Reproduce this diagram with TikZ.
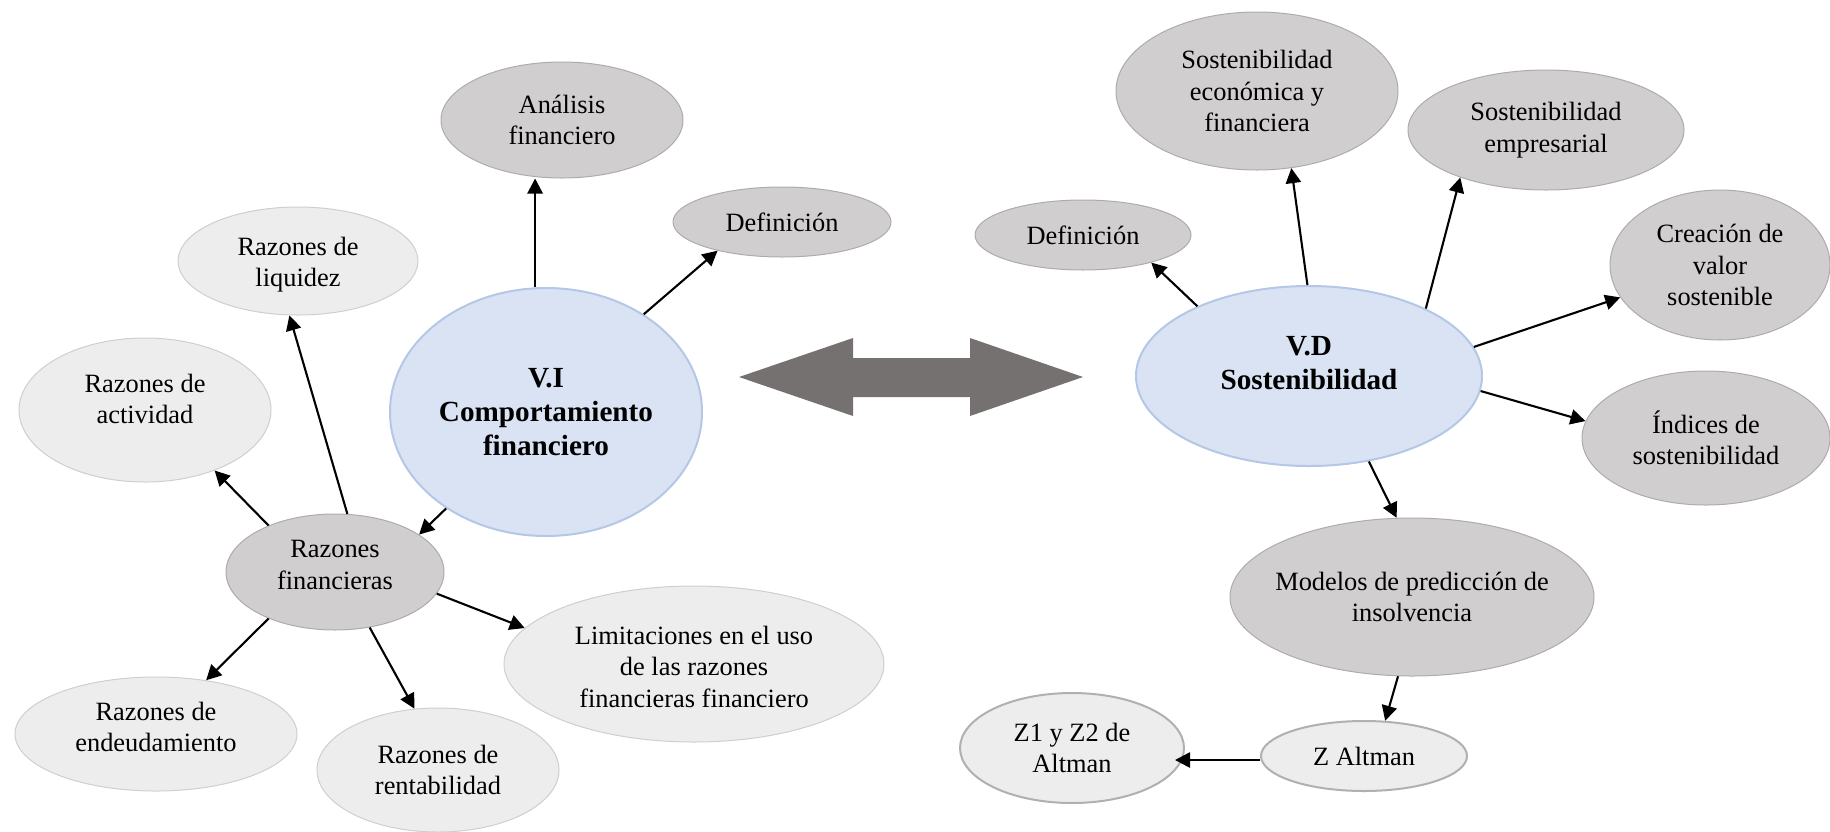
\documentclass[tikz,border=0pt]{standalone}
\usepackage{fontspec}
\setmainfont{Liberation Serif}
\usetikzlibrary{shapes.geometric}
\usetikzlibrary{arrows.meta}

\definecolor{darkfill}{HTML}{D0CECE}
\definecolor{darkline}{HTML}{AFABAB}
\definecolor{lightfill}{HTML}{EDEDED}
\definecolor{lightline}{HTML}{D0CECE}
\definecolor{mainfill}{HTML}{DAE3F3}
\definecolor{mainline}{HTML}{B4C7E7}
\definecolor{arrowgrey}{HTML}{767171}

\newcommand{\lowpad}[1]{\rule[-#1]{0pt}{0pt}}
\newcommand{\toppad}[1]{\rule{0pt}{#1}}

\tikzset{
  bubble/.style={ellipse, inner sep=0pt, align=center,
    font=\fontsize{13.2}{15.7}\selectfont},
  darkbubble/.style={bubble, fill=darkfill, draw=darkline, line width=0.5pt},
  lightbubble/.style={bubble, fill=lightfill, draw=lightline, line width=0.5pt},
  zbubble/.style={bubble, fill=lightfill, draw=lightline!85!black, line width=1pt},
  mainbubble/.style={ellipse, inner sep=0pt, align=center, fill=mainfill,
    draw=mainline, line width=1pt, font=\fontsize{14.6}{17.2}\selectfont\bfseries},
  link/.style={line width=1.05pt, -{Triangle[length=7.5pt,width=7.6pt]}}
}

\begin{document}
\begin{tikzpicture}[x=0.5pt, y=-0.5pt]
    \useasboundingbox (0, 0) rectangle (1830, 831);
    \node[mainbubble, minimum width=156pt, minimum height=124pt] (vi) at (546, 412) {V.I\\Comportamiento\\financiero};
    \node[darkbubble, minimum width=121pt, minimum height=58pt] (an) at (562, 120) {Análisis\\financiero};
    \node[darkbubble, minimum width=109pt, minimum height=35pt] (dl) at (782, 222) {Definición};
    \node[darkbubble, minimum width=109pt, minimum height=58pt] (rf) at (335, 572) {Razones\\financieras\lowpad{7pt}};
    \node[lightbubble, minimum width=120pt, minimum height=54pt] (rl) at (298, 261) {\toppad{13pt}Razones de\\liquidez};
    \node[lightbubble, minimum width=126pt, minimum height=72pt] (ra) at (145, 410) {Razones de\\actividad\lowpad{11pt}};
    \node[lightbubble, minimum width=141pt, minimum height=57pt] (re) at (156, 734) {Razones de\\endeudamiento\lowpad{7pt}};
    \node[lightbubble, minimum width=121pt, minimum height=62pt] (rr) at (438, 770) {Razones de\\rentabilidad};
    \node[lightbubble, minimum width=190pt, minimum height=78pt] (lim) at (694, 664) {\toppad{12pt}Limitaciones en el uso\\de las razones\\financieras financiero};

    \fill[arrowgrey] (739, 377) -- (853, 338) -- (853, 358) -- (970, 358) -- (970, 338)
      -- (1083, 377) -- (970, 416) -- (970, 397) -- (853, 397) -- (853, 416) -- cycle;

    \node[mainbubble, minimum width=173pt, minimum height=90pt] (vd) at (1309, 376) {V.D\\Sostenibilidad\lowpad{13pt}};
    \node[darkbubble, minimum width=108pt, minimum height=35pt] (dr) at (1083, 235) {Definición};
    \node[darkbubble, minimum width=141pt, minimum height=79pt] (se) at (1257, 91) {Sostenibilidad\\económica y\\financiera};
    \node[darkbubble, minimum width=138pt, minimum height=60pt] (sp) at (1546, 130) {Sostenibilidad\\empresarial};
    \node[darkbubble, minimum width=110pt, minimum height=75pt] (cv) at (1720, 265) {Creación de\\valor\\sostenible};
    \node[darkbubble, minimum width=124pt, minimum height=67pt, inner xsep=-2pt] (is) at (1706, 438) {Índices de\\sostenibilidad};
    \node[darkbubble, minimum width=182pt, minimum height=79pt, inner xsep=-6pt] (mp) at (1412, 597) {Modelos de predicción de\\insolvencia};
    \node[zbubble, minimum width=103pt, minimum height=35pt] (za) at (1364, 756) {Z Altman};
    \node[zbubble, minimum width=112pt, minimum height=55pt] (zz) at (1072, 748) {Z1 y Z2 de\\Altman};

    \draw[link] (vi.95) -- (vi.95 |- an.south);
    \draw[link] (vi.45) -- (dl.204);
    \draw[link] (vi.224) -- (rf.24);
    \draw[link] (rf.78) -- (rl.261);
    \draw[link] (rf.145) -- (ra.319);
    \draw[link] (rf.215) -- (re.47);
    \draw[link] (rf.302) -- (rr.111);
    \draw[link] (rf.348) -- (lim.168);
    \draw[link] (vd.148) -- (dr.338);
    \draw[link] (vd.91) -- (se.294);
    \draw[link] (vd.30) -- (sp.209);
    \draw[link] (vd.10) -- (cv.198);
    \draw[link] (vd.355) -- (is.172);
    \draw[link] (vd.305) -- (mp.101);
    \draw[link] (mp.260) -- (za.59);
    \draw[link] (za.west |- 0, 760) -- ([xshift=-5pt]zz.east |- 0, 760);
\end{tikzpicture}
\end{document}
